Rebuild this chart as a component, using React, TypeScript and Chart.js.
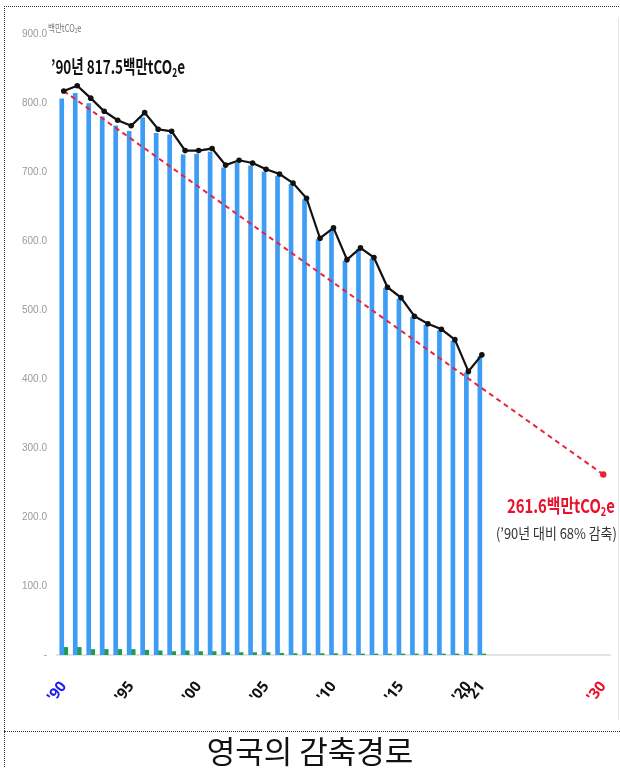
import React, { useEffect, useRef } from 'react';
import { Chart, registerables } from 'chart.js';

Chart.register(...registerables);

const categories = [
  "'90", "'91", "'92", "'93", "'94", "'95", "'96", "'97", "'98", "'99",
  "'00", "'01", "'02", "'03", "'04", "'05", "'06", "'07", "'08", "'09",
  "'10", "'11", "'12", "'13", "'14", "'15", "'16", "'17", "'18", "'19",
  "'20", "'21", "'22", "'23", "'24", "'25", "'26", "'27", "'28", "'29", "'30",
];

const shownTicks = ["'90", "'95", "'00", "'05", "'10", "'15", "'20", "'21", "'30"];

// total emissions (line), 1990-2021
const totalEmissions = [
  817.5, 825, 807, 788, 775, 767, 786, 762, 759, 731,
  731, 734, 710, 717, 713, 704, 697, 684, 662, 604,
  619, 573, 590, 576, 533, 518, 491, 480, 472, 457,
  411, 435,
];

// blue bars, 1990-2021
const mainEmissions = [
  806, 814, 799, 780, 767, 759, 779, 756, 754, 725,
  726, 729, 706, 713, 709, 700, 694, 682, 660, 602,
  617, 571, 588, 574, 531, 516, 489, 478, 470, 455,
  409, 433,
];

// small green bars, 1990-2021
const otherEmissions = [
  11, 11, 8, 8, 8, 8, 7, 6, 5, 6,
  5, 5, 3.5, 3.5, 3.5, 3.5, 2.5, 2, 2, 2,
  2, 1.5, 1.5, 1.5, 1.5, 1.5, 1.5, 1.5, 1.5, 1.5,
  1.5, 1.5,
];

const targetStart = { label: "'90", value: 817.5 };
const targetEnd = { label: "'30", value: 261.6 };

const yTicks = [0, 100, 200, 300, 400, 500, 600, 700, 800, 900];

const pad = (arr: number[]) => categories.map((_, i) => (i < arr.length ? arr[i] : null));

const BLUE = '#3d9cf4';
const GREEN = '#1f9d4c';
const RED = '#e8243a';

export default function App() {
  const ref = useRef<HTMLCanvasElement | null>(null);

  useEffect(() => {
    if (!ref.current) return;
    const chart = new Chart(ref.current, {
      type: 'bar',
      data: {
        labels: categories,
        datasets: [
          {
            type: 'line',
            label: 'total',
            data: pad(totalEmissions),
            borderColor: '#111',
            backgroundColor: '#111',
            borderWidth: 2.2,
            pointRadius: 2.8,
            pointBackgroundColor: '#111',
            pointBorderWidth: 0,
            tension: 0,
            order: 0,
          } as any,
          {
            type: 'line',
            label: 'target',
            data: [
              { x: targetStart.label, y: targetStart.value },
              { x: targetEnd.label, y: targetEnd.value },
            ],
            borderColor: RED,
            backgroundColor: RED,
            borderWidth: 2,
            borderDash: [5, 4],
            pointRadius: (c: any) => (c.dataIndex === 1 ? 3.2 : 0),
            pointBorderWidth: 0,
            order: 1,
          } as any,
          {
            label: 'main',
            data: pad(mainEmissions),
            backgroundColor: BLUE,
            barThickness: 4,
            order: 2,
          },
          {
            label: 'other',
            data: pad(otherEmissions),
            backgroundColor: GREEN,
            barThickness: 4,
            order: 3,
          },
        ],
      },
      options: {
        responsive: false,
        animation: false,
        layout: { padding: { top: 34, right: 10, left: 0, bottom: 0 } },
        plugins: {
          legend: { display: false },
          tooltip: { enabled: false },
        },
        scales: {
          x: {
            grid: { display: false, drawTicks: false },
            border: { display: true, color: '#e4e4e4', width: 2 },
            afterFit: (s: any) => {
              s.height = 75;
              s.paddingLeft = 0;
              s.paddingRight = 0;
            },
            ticks: {
              autoSkip: false,
              minRotation: 52,
              maxRotation: 52,
              padding: 23,
              callback: (_v: any, i: number) => (shownTicks.includes(categories[i]) ? categories[i] : ''),
              color: (c: any) => {
                const l = categories[c.index];
                if (l === "'90") return '#1c1cf0';
                if (l === "'30") return '#e8102a';
                return '#111';
              },
              font: { family: "'Noto Sans', sans-serif", size: 15, weight: 'bold' },
            },
          },
          y: {
            min: 0,
            max: 900,
            grid: { display: false, drawTicks: false },
            border: { display: false },
            afterFit: (s: any) => {
              s.width = 57;
            },
            afterBuildTicks: (s: any) => {
              s.ticks = yTicks.map((v) => ({ value: v }));
            },
            ticks: {
              padding: 10,
              color: '#9a9a9a',
              font: { family: "'Liberation Sans Narrow', 'Liberation Sans', sans-serif", size: 10 },
              callback: (v: any) => (Number(v) === 0 ? '-' : Number(v).toFixed(1)),
            },
          },
        },
      },
    });
    return () => chart.destroy();
  }, []);

  const kr = "'Noto Sans CJK KR', 'Noto Sans', sans-serif";

  return (
    <div style={{ position: 'absolute', left: 0, top: 0, width: 620, height: 768, background: '#fff', overflow: 'hidden' }}>
      {/* frame */}
      <div style={{ position: 'absolute', left: 4, top: 6, width: 620, height: 780, borderTop: '1px dotted #333', borderLeft: '1px dotted #333' }} />
      <div style={{ position: 'absolute', left: 618, top: 18, width: 1, height: 702, background: '#e6e6e6' }} />
      <div style={{ position: 'absolute', left: 4, top: 731, width: 620, height: 0, borderTop: '1px dotted #333' }} />

      <canvas ref={ref} width={620} height={730} style={{ position: 'absolute', left: 0, top: 0, width: 620, height: 730 }} />

      {/* unit */}
      <div style={{ position: 'absolute', left: 48, top: 23, fontFamily: kr, fontSize: 10, color: '#777', whiteSpace: 'nowrap', transform: 'scaleX(0.75)', transformOrigin: 'left top', lineHeight: 1 }}>
        백만tCO<sub style={{ fontSize: '0.6em', verticalAlign: '-0.2em' }}>2</sub>e
      </div>

      {/* start annotation */}
      <div style={{ position: 'absolute', left: 51, top: 56, fontFamily: kr, fontWeight: 700, fontSize: 19, color: '#111', whiteSpace: 'nowrap', transform: 'scaleX(0.71)', transformOrigin: 'left top', lineHeight: 1 }}>
        ’90년 817.5백만tCO<sub style={{ fontSize: '0.62em', verticalAlign: '-0.25em' }}>2</sub>e
      </div>

      {/* target annotation */}
      <div style={{ position: 'absolute', left: 507, top: 495, fontFamily: kr, fontWeight: 700, fontSize: 19, color: '#e8102a', whiteSpace: 'nowrap', transform: 'scaleX(0.78)', transformOrigin: 'left top', lineHeight: 1 }}>
        261.6백만tCO<sub style={{ fontSize: '0.62em', verticalAlign: '-0.25em' }}>2</sub>e
      </div>
      <div style={{ position: 'absolute', left: 496, top: 525, fontFamily: kr, fontWeight: 400, fontSize: 15, color: '#333', whiteSpace: 'nowrap', transform: 'scaleX(0.86)', transformOrigin: 'left top', lineHeight: 1 }}>
        (’90년 대비 68% 감축)
      </div>

      {/* caption */}
      <div style={{ position: 'absolute', left: 0, top: 731, width: 620, textAlign: 'center', fontFamily: kr, fontSize: 31, color: '#111', lineHeight: '37px' }}>
        영국의 감축경로
      </div>
    </div>
  );
}
